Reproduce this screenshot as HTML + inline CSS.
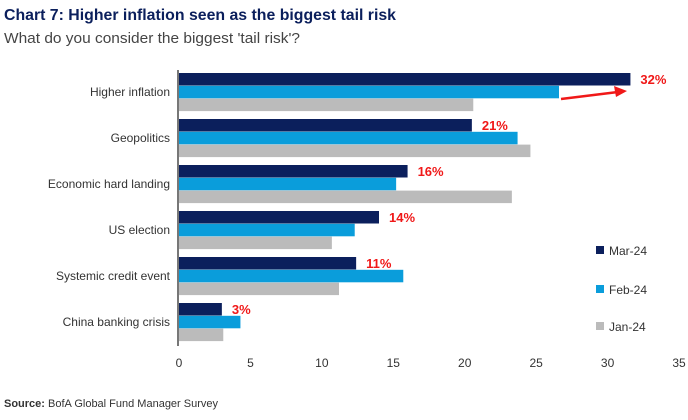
<!DOCTYPE html>
<html><head><meta charset="utf-8"><style>
body{margin:0;background:#fff;font-family:"Liberation Sans",sans-serif}
svg text{font-family:"Liberation Sans",sans-serif}
</style></head><body>
<svg width="688" height="415">
<text x="4" y="20" font-size="16" font-weight="bold" fill="#0b1f5c" textLength="392" lengthAdjust="spacingAndGlyphs">Chart 7: Higher inflation seen as the biggest tail risk</text>
<text x="4" y="43" font-size="14.5" fill="#444" textLength="296" lengthAdjust="spacingAndGlyphs">What do you consider the biggest 'tail risk'?</text>
<g id="plot"></g>
<line x1="178" y1="70" x2="178" y2="346" stroke="#777" stroke-width="2"/>
<line x1="561" y1="99" x2="618" y2="92" stroke="#f01818" stroke-width="2.5"/>
<polygon points="627,91 614,86 616,97" fill="#f01818"/>
<g font-size="12" fill="#333">
<rect x="596" y="246" width="8" height="8" fill="#0b1f5c"/>
<text x="609" y="255">Mar-24</text>
<rect x="596" y="285" width="8" height="8" fill="#0a9ddb"/>
<text x="609" y="294">Feb-24</text>
<rect x="596" y="322" width="8" height="8" fill="#bbb"/>
<text x="609" y="331">Jan-24</text>
</g>
<text x="4" y="407" font-size="11" fill="#333"><tspan font-weight="bold">Source:</tspan> BofA Global Fund Manager Survey</text>
</svg>
<script>
const categories=["Higher inflation","Geopolitics","Economic hard landing","US election","Systemic credit event","China banking crisis"];
const mar=[31.6,20.5,16.0,14.0,12.4,3.0];
const feb=[26.6,23.7,15.2,12.3,15.7,4.3];
const jan=[20.6,24.6,23.3,10.7,11.2,3.1];
const marLabels=["32%","21%","16%","14%","11%","3%"];
const ticks=[0,5,10,15,20,25,30,35];
const NS="http://www.w3.org/2000/svg";
const g=document.getElementById('plot');
const x0=179,x1=679,xmax=35;
const xs=v=>x0+v/xmax*(x1-x0);
const ys=i=>73+i*46;
const bh=12.8;
function mk(t,a){const e=document.createElementNS(NS,t);for(const k in a)e.setAttribute(k,a[k]);g.appendChild(e);return e;}
const series=[[mar,"#0b1f5c","mar"],[feb,"#0a9ddb","feb"],[jan,"#bbb","jan"]];
categories.forEach((c,i)=>{
  series.forEach((s,j)=>{
    const r=mk('rect',{x:x0,y:ys(i)+j*bh,width:xs(s[0][i])-x0,height:bh-0.3,fill:s[1]});
    
    
  });
  const t=mk('text',{x:170,y:ys(i)+bh*1.5+4,'text-anchor':'end','font-size':12,fill:'#333'});
  t.textContent=c;
  
  
  const l=mk('text',{x:xs(mar[i])+(i==0?10:10),y:ys(i)+11,'font-size':13,'font-weight':'bold',fill:'#f01818'});
  l.textContent=marLabels[i];
  
  
});
ticks.forEach(v=>{
  const t=mk('text',{x:xs(v),y:367,'text-anchor':'middle','font-size':12,fill:'#333'});
  t.textContent=v;
  
  
});
</script>
</body></html>
